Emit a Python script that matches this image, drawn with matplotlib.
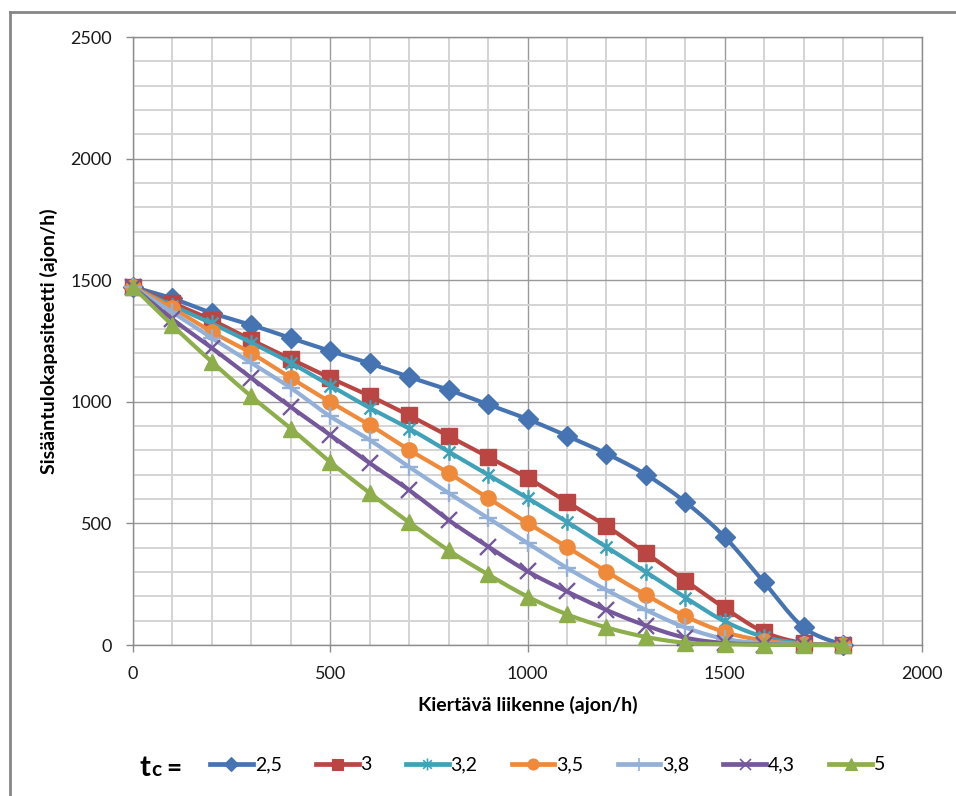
import numpy as np
import matplotlib
matplotlib.use("Agg")
import matplotlib.pyplot as plt
from matplotlib.lines import Line2D
from matplotlib.path import Path
from matplotlib.ticker import MultipleLocator

plt.rcParams['font.family'] = ['Lato', 'DejaVu Sans']

# Circulating traffic (veh/h)
circulating = [0, 100, 200, 300, 400, 500, 600, 700, 800, 900,
               1000, 1100, 1200, 1300, 1400, 1500, 1600, 1700, 1800]

# Entry capacity (veh/h) for each critical gap tc
cap_2_5 = [1472, 1425, 1365, 1316, 1262, 1209, 1158, 1102, 1049, 989,
           929, 860, 787, 701, 588, 444, 257, 72, 0]
cap_3 = [1472, 1406, 1336, 1254, 1176, 1098, 1024, 944, 859, 773,
         687, 588, 489, 378, 265, 152, 53, 8, 0]
cap_3_2 = [1472, 1395, 1322, 1243, 1160, 1067, 975, 890, 795, 700,
           604, 506, 403, 300, 195, 97, 33, 6, 0]
cap_3_5 = [1472, 1385, 1287, 1200, 1098, 999, 905, 802, 707, 604,
           502, 403, 302, 206, 118, 53, 18, 3, 0]
cap_3_8 = [1472, 1368, 1262, 1160, 1057, 940, 843, 732, 625, 522,
           419, 317, 226, 144, 72, 25, 7, 1, 0]
cap_4_3 = [1472, 1340, 1221, 1098, 979, 863, 748, 637, 514, 405,
           303, 220, 144, 80, 30, 8, 2, 0, 0]
cap_5 = [1472, 1314, 1164, 1022, 890, 752, 625, 504, 389, 290,
         199, 126, 72, 33, 9, 3, 1, 0, 0]

tc_labels = ["2,5", "3", "3,2", "3,5", "3,8", "4,3", "5"]
series = [cap_2_5, cap_3, cap_3_2, cap_3_5, cap_3_8, cap_4_3, cap_5]
colors = ["#4674B2", "#BA4643", "#3FA2B9", "#EF8A3B", "#93B1D8", "#74589B", "#8DAE4B"]

# asterisk marker: vertical bar crossed by an X
star = Path([(0, -1), (0, 1), (-0.72, -0.72), (0.72, 0.72), (-0.72, 0.72), (0.72, -0.72)],
            [Path.MOVETO, Path.LINETO, Path.MOVETO, Path.LINETO, Path.MOVETO, Path.LINETO])
markers = ["D", "s", star, "o", "+", "x", "^"]
msizes = [10, 11, 12, 11, 13, 11, 12]
thin = [False, False, True, False, True, True, False]


def smooth(x, y, n=24):
    """Bezier smoothing through every point (spreadsheet style smoothed line)."""
    x = np.asarray(x, float)
    y = np.asarray(y, float)
    px = np.concatenate([[x[0]], x, [x[-1]]])
    py = np.concatenate([[y[0]], y, [y[-1]]])
    t = np.linspace(0, 1, n)[:, None]
    xs, ys = [], []
    for i in range(1, len(px) - 2):
        p0 = np.array([px[i], py[i]])
        p3 = np.array([px[i + 1], py[i + 1]])
        c1 = p0 + (np.array([px[i + 1], py[i + 1]]) - np.array([px[i - 1], py[i - 1]])) / 6
        c2 = p3 - (np.array([px[i + 2], py[i + 2]]) - np.array([px[i], py[i]])) / 6
        b = ((1 - t) ** 3) * p0 + 3 * ((1 - t) ** 2) * t * c1 + 3 * (1 - t) * t ** 2 * c2 + t ** 3 * p3
        xs.append(b[:, 0])
        ys.append(b[:, 1])
    return np.concatenate(xs), np.concatenate(ys)


fig = plt.figure(figsize=(9.56, 7.96), dpi=100)
ax = fig.add_axes([133 / 956, 1 - 645 / 796, (922 - 133) / 956, (645 - 37) / 796])

ax.set_xlim(0, 2000)
ax.set_ylim(0, 2500)
ax.xaxis.set_major_locator(MultipleLocator(500))
ax.yaxis.set_major_locator(MultipleLocator(500))
ax.xaxis.set_minor_locator(MultipleLocator(100))
ax.yaxis.set_minor_locator(MultipleLocator(100))
ax.grid(which="minor", color="#d4d4d4", lw=1.4, zorder=0)
ax.grid(which="major", color="#9a9a9a", lw=1.0, zorder=0)
ax.set_axisbelow(True)
ax.tick_params(which="minor", length=0)
ax.tick_params(which="major", direction="out", length=5, width=1, color="#8c8c8c",
               labelsize=13, pad=10, labelcolor="#1a1a1a")
for s in ax.spines.values():
    s.set_color("#8c8c8c")
    s.set_linewidth(1.0)

handles = []
for vals, c, m, ms, th, lab in zip(series, colors, markers, msizes, thin, tc_labels):
    sx, sy = smooth(circulating, vals)
    ax.plot(sx, sy, color=c, lw=3.0, solid_capstyle="round", zorder=3, clip_on=False)
    mew = 1.7 if th else 1.0
    ax.plot(circulating, vals, ls="none", marker=m, ms=ms, color=c, mec=c, mew=mew,
            zorder=3, clip_on=False)
    handles.append(Line2D([], [], color=c, lw=3.4, marker=m, ms=ms * 0.72, mec=c,
                          mew=1.2 if th else 0.8, label=lab))

ax.set_xlabel("Kiertävä liikenne (ajon/h)", fontsize=14, fontweight="bold", labelpad=10)
ax.set_ylabel("Sisääntulokapasiteetti (ajon/h)", fontsize=14, fontweight="bold", labelpad=9)

leg = fig.legend(handles=handles, loc="center left", bbox_to_anchor=(210 / 956, 1 - 765 / 796),
                 ncol=7, frameon=False, fontsize=14, handlelength=2.2, handletextpad=0.1,
                 columnspacing=1.75, borderpad=0, borderaxespad=0)

# "tc =" caption in front of the legend
fig.text(139 / 956, 1 - 776 / 796, "t", fontsize=21, fontweight="bold", va="baseline")
fig.text(151 / 956, 1 - 776 / 796, "c", fontsize=15, fontweight="bold", va="baseline")
fig.text(166 / 956, 1 - 776 / 796, "=", fontsize=19, fontweight="bold", va="baseline")

# outer chart frame
fig.add_artist(Line2D([10 / 956, 10 / 956], [0, 1 - 12 / 796], color="#868686", lw=2,
                      transform=fig.transFigure))
fig.add_artist(Line2D([10 / 956, 1], [1 - 12 / 796, 1 - 12 / 796], color="#868686", lw=2,
                      transform=fig.transFigure))

fig.savefig("out.png", dpi=100, facecolor="white")
